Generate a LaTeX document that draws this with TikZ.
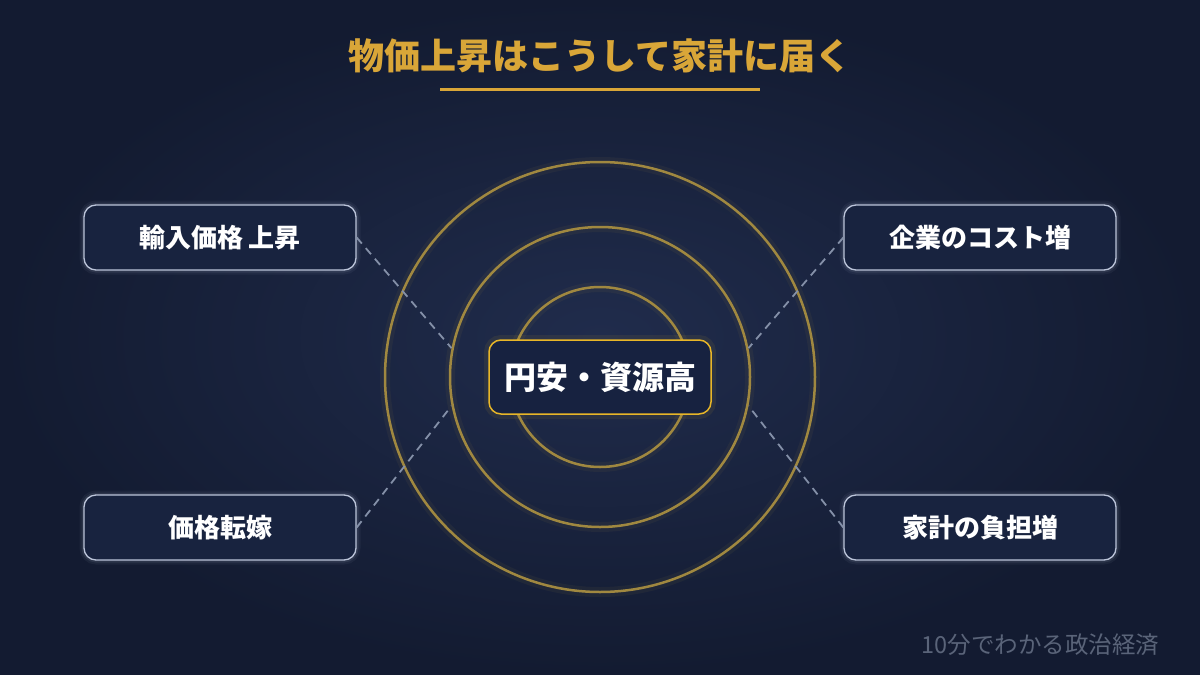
\documentclass[tikz,border=0pt]{standalone}
\usepackage{fontspec}
\setmainfont{Noto Sans CJK JP}
\definecolor{bgin}{HTML}{202C4C}
\definecolor{bgout}{HTML}{131B31}
\definecolor{gold}{HTML}{D9A638}
\definecolor{ringgold}{HTML}{A08840}
\definecolor{corefill}{HTML}{172240}
\definecolor{coreline}{HTML}{E8B628}
\definecolor{boxfill}{HTML}{18233F}
\definecolor{boxline}{HTML}{BCC5DA}
\definecolor{linkgray}{HTML}{8490A8}
\definecolor{footgray}{HTML}{5A6479}
\tikzstyle{item}=[draw=boxline,fill=boxfill,rounded corners=12pt,line width=1.3pt,
  minimum width=272pt,minimum height=65pt,text=white,
  font=\fontsize{26}{30}\selectfont\bfseries,
  preaction={draw=boxline,line width=9pt,opacity=0.06},
  preaction={draw=boxline,line width=5pt,opacity=0.10}]
\tikzstyle{ring}=[circle,draw=ringgold,line width=2.5pt,
  preaction={draw=ringgold,line width=10pt,opacity=0.08}]
\tikzstyle{link}=[draw=linkgray,line width=1.8pt,dash pattern=on 8pt off 6pt]
\newcommand{\ringnode}[2]{\node[ring,minimum size=#2] (#1) at (core) {};}
\newcommand{\itemnode}[3]{\node[item] (#1) at #2 {#3};}

\begin{document}
\begin{tikzpicture}[x=1pt,y=-1pt]
    % background
    \fill[inner color=bgin,outer color=bgout] (0,0) rectangle (1200,675);
    \useasboundingbox (0,0) rectangle (1200,675);

    % title
    \node[text=gold,font=\fontsize{36}{40}\selectfont\bfseries] (title) at (600,56) {物価上昇はこうして家計に届く};
    \draw[gold,line width=3pt] (440,89) -- (760,89);

    % rings round the centre
    \coordinate (core) at (600,377);
    \ringnode{ring1}{180pt}
    \ringnode{ring2}{300pt}
    \ringnode{ring3}{430pt}

    \node[draw=coreline,fill=corefill,rounded corners=12pt,line width=1.5pt,
      minimum width=222pt,minimum height=74pt,text=white,
      font=\fontsize{32}{36}\selectfont\bfseries,
      preaction={draw=coreline,line width=10pt,opacity=0.08}] (center) at (core) {円安・資源高};

    % the four effects
    \itemnode{import}{(220,237.5)}{輸入価格 上昇}
    \itemnode{cost}{(980,237.5)}{企業のコスト増}
    \itemnode{pass}{(220,527.5)}{価格転嫁}
    \itemnode{house}{(980,527.5)}{家計の負担増}

    \draw[link] (import.east) -- (ring2.169);
    \draw[link] (cost.west) -- (ring2.11);
    \draw[link] (pass.east) -- (ring2.191);
    \draw[link] (house.west) -- (ring2.-11);

    % footer
    \node[anchor=east,text=footgray,font=\fontsize{23.5}{28}\selectfont] (foot) at (1163,645) {10分でわかる政治経済};
\end{tikzpicture}
\end{document}
